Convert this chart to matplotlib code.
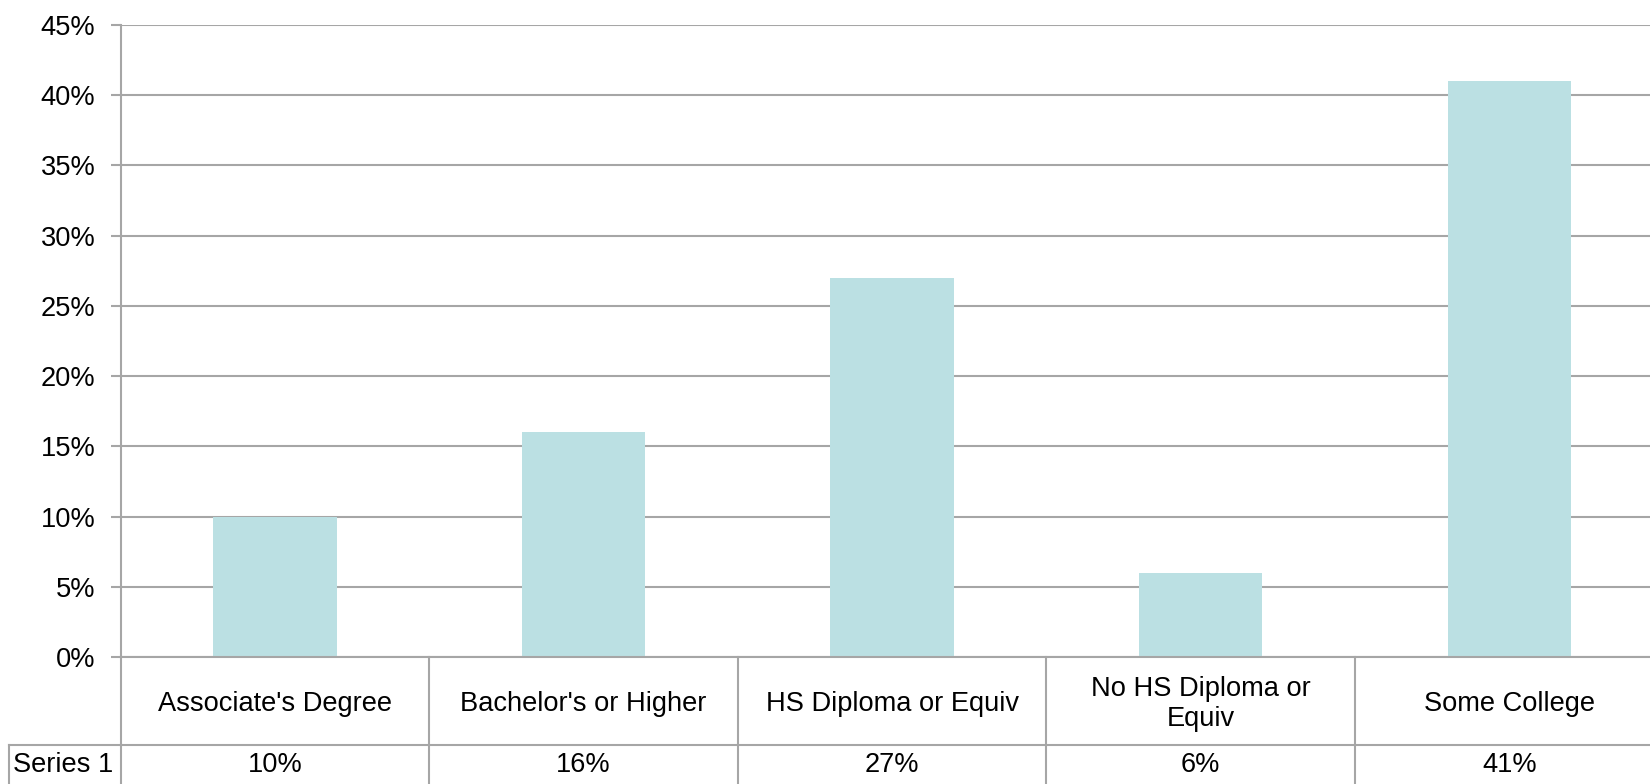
import numpy as np
import matplotlib
matplotlib.use('Agg')
import matplotlib.pyplot as plt
import matplotlib.transforms as mtransforms
from matplotlib.lines import Line2D

plt.rcParams['font.family'] = ['Liberation Sans', 'DejaVu Sans']

# data
categories = ["Associate's Degree", "Bachelor's or Higher", "HS Diploma or Equiv",
              "No HS Diploma or\nEquiv", "Some College"]
values = [0.10, 0.16, 0.27, 0.06, 0.41]
series_name = 'Series 1'
yticks = [0, 0.05, 0.10, 0.15, 0.20, 0.25, 0.30, 0.35, 0.40, 0.45]

grid_col = '#A6A6A6'
bar_col = '#BBE0E3'
fs = 19.6

fig = plt.figure(figsize=(16.5, 7.84), dpi=100)
ax = fig.add_axes([120.6 / 1650, 127 / 784, 1543 / 1650, 632 / 784])

x = np.arange(len(categories))
ax.bar(x, values, width=0.4, color=bar_col, zorder=2)

ax.set_xlim(-0.5, len(categories) - 0.5)
ax.set_ylim(0, 0.45)
ax.set_yticks(yticks)
ax.set_yticklabels(['%d%%' % round(v * 100) for v in yticks], fontsize=fs)
ax.set_xticks([])
ax.yaxis.grid(True, color=grid_col, linewidth=1.5, zorder=0)
ax.tick_params(axis='y', length=7.2, width=1.5, color=grid_col, pad=11)
for s in ['top', 'right']:
    ax.spines[s].set_visible(False)
ax.spines['left'].set_color(grid_col)
ax.spines['left'].set_linewidth(1.5)
ax.spines['bottom'].set_color(grid_col)
ax.spines['bottom'].set_linewidth(1.5)

# data table under the chart
trans = mtransforms.blended_transform_factory(ax.transData, ax.transAxes)
row_div = -88 / 632
bottom = -130 / 632
for i in range(len(categories)):
    ax.add_line(Line2D([i - 0.5, i - 0.5], [0, bottom], transform=trans,
                       color=grid_col, lw=1.5, clip_on=False))
    ax.text(i, -47 / 632, categories[i], transform=trans, ha='center', va='center',
            fontsize=fs, linespacing=1.25)
    ax.text(i, -108.5 / 632, '%d%%' % round(values[i] * 100), transform=trans,
            ha='center', va='center', fontsize=fs)
ax.add_line(Line2D([-0.5, len(categories)], [row_div, row_div], transform=trans,
                   color=grid_col, lw=1.5, clip_on=False))

# left label cell
fig.add_artist(Line2D([9 / 1650, 121 / 1650], [39 / 784, 39 / 784], color=grid_col, lw=1.5))
fig.add_artist(Line2D([9 / 1650, 9 / 1650], [39 / 784, 0], color=grid_col, lw=1.5))
fig.text(13 / 1650, 19 / 784, series_name, ha='left', va='center', fontsize=fs)

fig.savefig('out.png', dpi=100)
